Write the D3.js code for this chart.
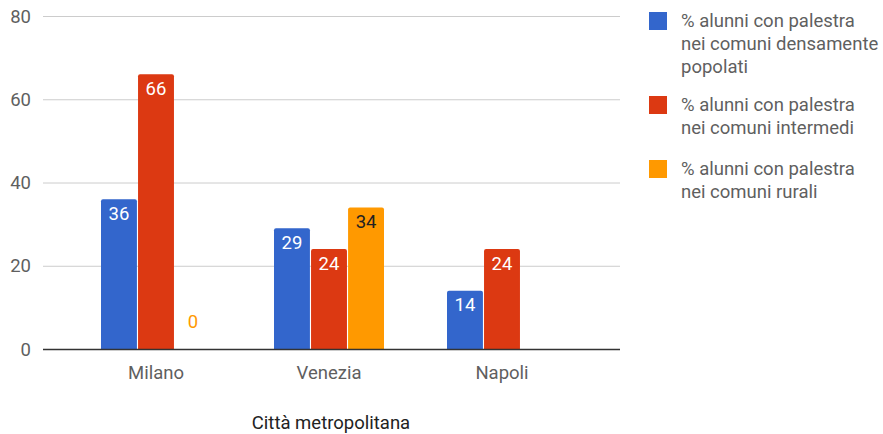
<!DOCTYPE html>
<html><head><meta charset="utf-8">
<script src="https://cdn.jsdelivr.net/npm/d3@7"></script>
<style>
body{margin:0;background:#fff;}
svg text{font-family:Roboto,"Noto Sans",sans-serif;}
</style></head>
<body><svg id="c" width="883" height="434"></svg>
<script>
const categories = ["Milano","Venezia","Napoli"];
const seriesNames = [
  ["% alunni con palestra","nei comuni densamente","popolati"],
  ["% alunni con palestra","nei comuni intermedi"],
  ["% alunni con palestra","nei comuni rurali"]
];
const densi = [36, 29, 14];
const intermedi = [66, 24, 24];
const rurali = [0, 34, null];
const yTicks = [0, 20, 40, 60, 80];
const colors = ["#3366cc","#dc3912","#ff9900"];
const labelColors = ["#ffffff","#ffffff","#222222"];
const xTitle = "Città metropolitana";

const FS = 18.5;
const series = [densi, intermedi, rurali];
const svg = d3.select("#c");
const pLeft = 43, pRight = 620, pTop = 16, pBottom = 349;

const y = d3.scaleLinear().domain([0,80]).range([pBottom, pTop]);
const x0 = d3.scaleBand().domain(categories).range([69.5, 588.5]).paddingInner(0).paddingOuter(0);
const x1 = d3.scaleBand().domain([0,1,2]).range([31.5, 141.5]).paddingInner(0.03);

// gridlines
svg.append("g").selectAll("line").data(yTicks.filter(d=>d!==0)).join("line")
  .attr("x1", pLeft).attr("x2", pRight)
  .attr("y1", d=>y(d)+0.5).attr("y2", d=>y(d)+0.5)
  .attr("stroke", "#cccccc").attr("stroke-width", 1);

// y labels
svg.append("g").selectAll("text").data(yTicks).join("text")
  .attr("x", 31).attr("y", d=>y(d)+6.5)
  .attr("text-anchor","end").attr("font-size",FS).attr("fill","#5f5f5f")
  .text(d=>d);

// bars
const rectPath = (x, yTop, w, h, r) => {
  r = Math.min(r, h, w/2);
  return `M${x},${yTop+h}V${yTop+r}Q${x},${yTop} ${x+r},${yTop}H${x+w-r}Q${x+w},${yTop} ${x+w},${yTop+r}V${yTop+h}Z`;
};
series.forEach((vals, si) => {
  const g = svg.append("g");
  categories.forEach((c, ci) => {
    const v = vals[ci];
    if (v === null || v === undefined) return;
    const bx = x0(c) + x1(si);
    const bw = x1.bandwidth();
    if (v > 0) {
      g.append("path").attr("d", rectPath(bx, y(v), bw, y(0)-y(v), 2)).attr("fill", colors[si]);
      g.append("text").attr("x", bx + bw/2).attr("y", y(v)+20.5)
        .attr("text-anchor","middle").attr("font-size",FS).attr("fill", labelColors[si]).text(v);
    } else {
      g.append("text").attr("x", bx + bw/2).attr("y", y(0)-21)
        .attr("text-anchor","middle").attr("font-size",FS).attr("fill", colors[si]).text(v);
    }
  });
});

// baseline
svg.append("line").attr("x1", pLeft).attr("x2", pRight).attr("y1", y(0)+0.5).attr("y2", y(0)+0.5)
  .attr("stroke","#333333").attr("stroke-width",1.3);

// x labels
svg.append("g").selectAll("text").data(categories).join("text")
  .attr("x", d=>x0(d)+x0.bandwidth()/2).attr("y", 379)
  .attr("text-anchor","middle").attr("font-size",FS).attr("fill","#5f5f5f").text(d=>d);

svg.append("text").attr("x", 331).attr("y", 429).attr("text-anchor","middle")
  .attr("font-size",FS).attr("fill","#222222").text(xTitle);

// legend
const legY = [12, 96, 160];
seriesNames.forEach((lines, i) => {
  svg.append("rect").attr("x", 649).attr("y", legY[i]).attr("width", 18).attr("height", 18)
    .attr("fill", colors[i]);
  lines.forEach((t, li) => {
    svg.append("text").attr("x", 681).attr("y", legY[i] + 15 + li*23)
      .attr("font-size",FS).attr("fill","#5f5f5f").text(t);
  });
});
</script></body></html>
